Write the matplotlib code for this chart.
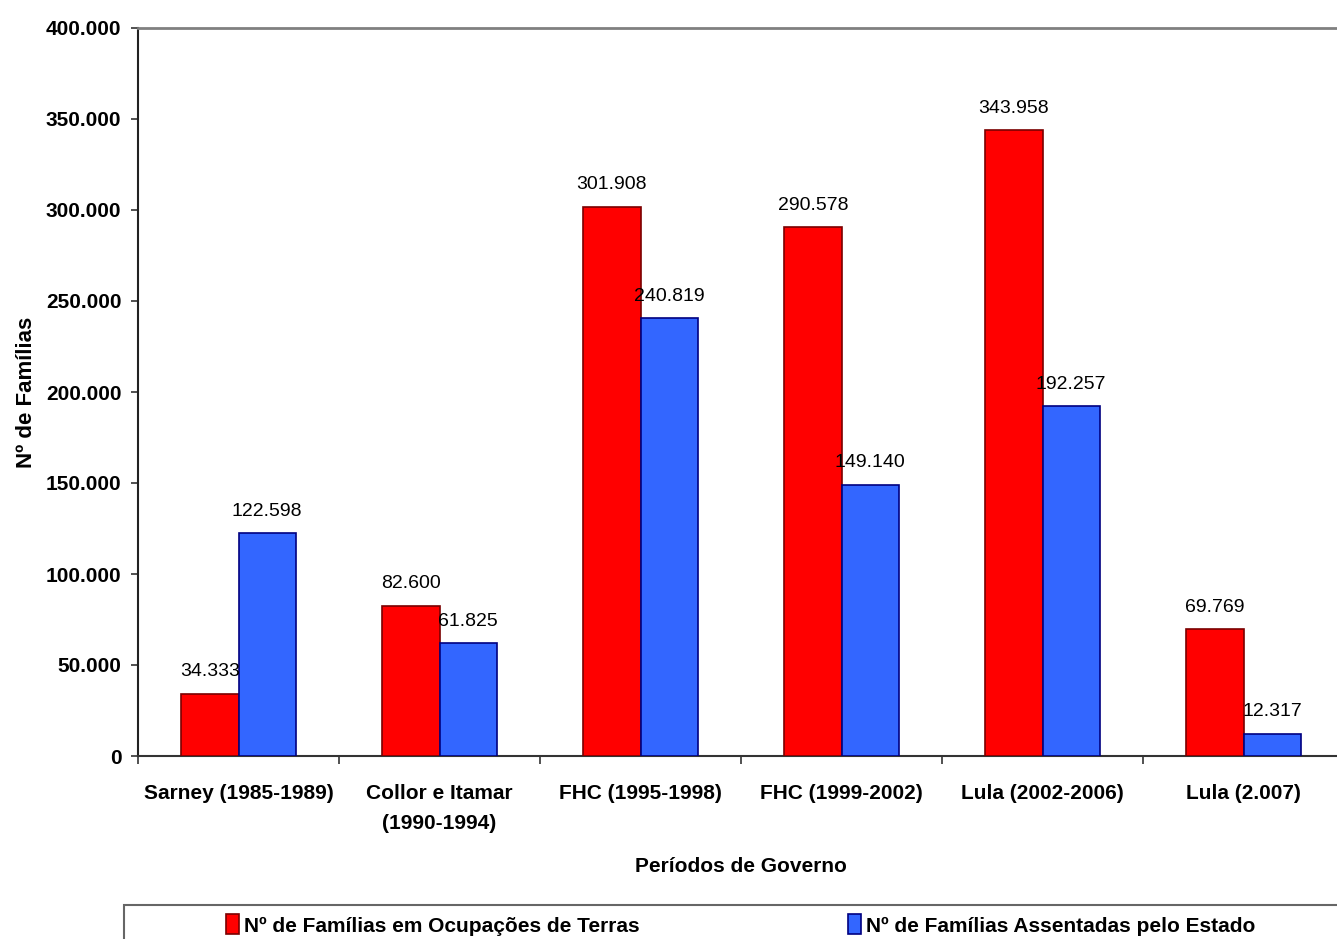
import matplotlib
matplotlib.use("Agg")
import matplotlib.pyplot as plt
from matplotlib.patches import Patch, Rectangle
from matplotlib.ticker import FuncFormatter, FixedLocator, NullFormatter
import numpy as np

categories = ["Sarney (1985-1989)", "Collor e Itamar\n(1990-1994)", "FHC (1995-1998)",
              "FHC (1999-2002)", "Lula (2002-2006)", "Lula (2.007)"]
ocupacoes = [34333, 82600, 301908, 290578, 343958, 69769]
assentadas = [122598, 61825, 240819, 149140, 192257, 12317]
series_names = ["Nº de Famílias em Ocupações de Terras", "Nº de Famílias Assentadas pelo Estado"]
y_ticks = [0, 50000, 100000, 150000, 200000, 250000, 300000, 350000, 400000]

RED = "#FF0000"
RED_EDGE = "#7A0000"
BLUE = "#3366FF"
BLUE_EDGE = "#000080"

plt.rcParams['font.family'] = ['Liberation Sans', 'DejaVu Sans']

W, H = 1337, 939
fig = plt.figure(figsize=(W / 100, H / 100), dpi=100)
left_px, right_px, top_px, bottom_px = 138, 1344, 28, 756
ax = fig.add_axes([left_px / W, (H - bottom_px) / H, (right_px - left_px) / W, (bottom_px - top_px) / H])

x = np.arange(len(categories))
bw = 0.286
b1 = ax.bar(x - bw / 2, ocupacoes, bw, color=RED, edgecolor=RED_EDGE, linewidth=1.2, zorder=3)
b2 = ax.bar(x + bw / 2, assentadas, bw, color=BLUE, edgecolor=BLUE_EDGE, linewidth=1.2, zorder=3)

def fmt(v):
    return f"{int(v):,}".replace(",", ".")

for bars, vals in ((b1, ocupacoes), (b2, assentadas)):
    for rect, v in zip(bars, vals):
        ax.annotate(fmt(v), (rect.get_x() + rect.get_width() / 2, v),
                    xytext=(0, 9.5), textcoords="offset points",
                    ha="center", va="bottom", fontsize=14, zorder=4)

ax.set_xlim(-0.5, len(categories) - 0.5)
ax.set_ylim(0, 400000)
ax.set_yticks(y_ticks)
ax.yaxis.set_major_formatter(FuncFormatter(lambda v, p: fmt(v)))
ax.tick_params(axis='y', labelsize=15, length=5, width=1.2, pad=7, color="#333333")
for lab in ax.get_yticklabels():
    lab.set_fontweight("bold")

# category boundaries as major ticks, labels at centers as minor ticks
ax.xaxis.set_major_locator(FixedLocator(np.arange(len(categories) + 1) - 0.5))
ax.xaxis.set_major_formatter(NullFormatter())
ax.set_xticks(x, minor=True)
ax.set_xticklabels(categories, minor=True, fontsize=15, fontweight="bold", linespacing=1.78)
ax.tick_params(axis='x', which='major', length=6, width=1.2, color="#333333")
ax.tick_params(axis='x', which='minor', length=0, pad=20)

ax.set_xlabel("Períodos de Governo", fontsize=15, fontweight="bold", labelpad=17)
ax.set_ylabel("Nº de Famílias", fontsize=16, fontweight="bold")
ax.yaxis.set_label_coords(-0.084, 0.5)

ax.spines['left'].set_color("#222222")
ax.spines['left'].set_linewidth(1.5)
ax.spines['bottom'].set_color("#333333")
ax.spines['bottom'].set_linewidth(1.5)
ax.spines['top'].set_color("#808080")
ax.spines['top'].set_linewidth(2)
ax.spines['right'].set_color("#808080")

# legend frame
fig.patches.append(Rectangle((124 / W, -0.01), 1.0, (939 - 905) / H + 0.01,
                             transform=fig.transFigure, fill=False,
                             edgecolor="#666666", linewidth=1.5))

h1 = Patch(facecolor=RED, edgecolor=RED_EDGE, linewidth=1.2)
h2 = Patch(facecolor=BLUE, edgecolor=BLUE_EDGE, linewidth=1.2)
for h, name, xpx in ((h1, series_names[0], 226), (h2, series_names[1], 848)):
    fig.legend(handles=[h], labels=[name], loc="center left",
               bbox_to_anchor=(xpx / W, (939 - 925) / H), frameon=False,
               borderpad=0, borderaxespad=0, handlelength=0.6, handleheight=1.1,
               handletextpad=0.25, prop={"size": 15, "weight": "bold"})

fig.savefig("out.png", dpi=100)
